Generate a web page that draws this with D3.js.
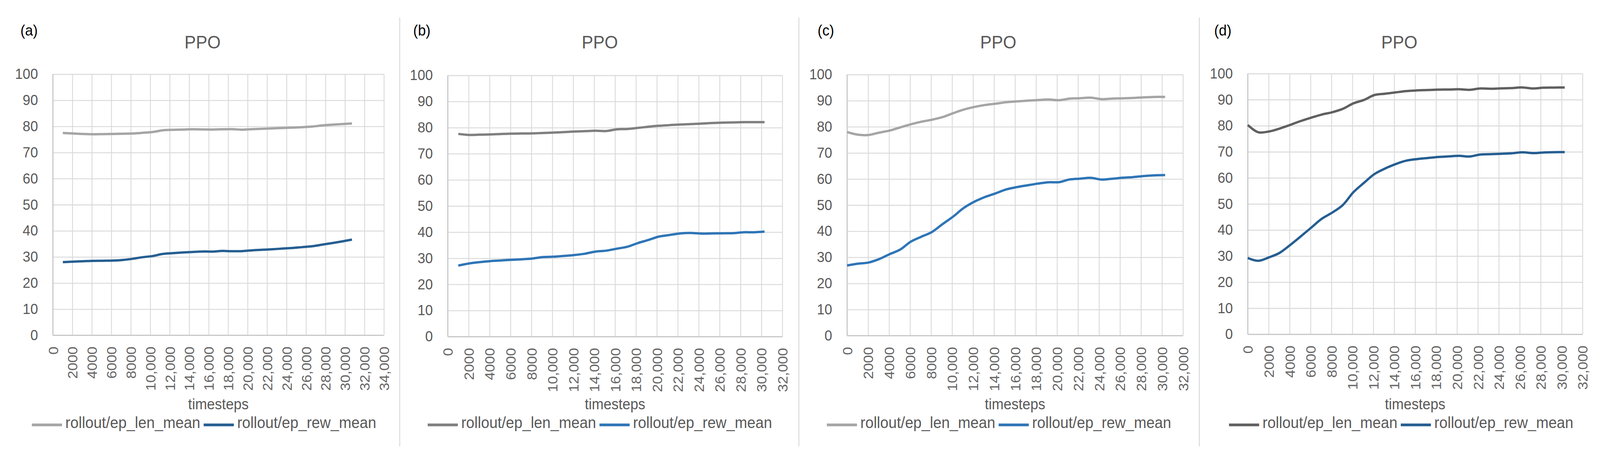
<!DOCTYPE html>
<html>
<head>
<meta charset="utf-8">
<script src="https://cdn.jsdelivr.net/npm/d3@7"></script>
<style>
  html, body { margin: 0; padding: 0; width: 100%; height: 100%; overflow: hidden; background: #fff; }
  svg { display: block; width: 100vw; height: 100vh; }
  text { font-family: "Liberation Sans", Arial, sans-serif; }
</style>
</head>
<body>
<svg id="chart"></svg>
<script>
// ---- data ----
const panelLabels = ['(a)', '(b)', '(c)', '(d)'];
const chartTitle = 'PPO';
const xTitle = 'timesteps';
const seriesNames = ['rollout/ep_len_mean', 'rollout/ep_rew_mean'];

const yTicks = [0, 10, 20, 30, 40, 50, 60, 70, 80, 90, 100];
const xTicks34 = [0, 2000, 4000, 6000, 8000, 10000, 12000, 14000, 16000, 18000,
  20000, 22000, 24000, 26000, 28000, 30000, 32000, 34000];
const xTicks32 = [0, 2000, 4000, 6000, 8000, 10000, 12000, 14000, 16000, 18000,
  20000, 22000, 24000, 26000, 28000, 30000, 32000];

const stepsA = [1024, 2048, 3072, 4096, 5120, 6144, 7168, 8192, 9216, 10240,
  11264, 12288, 13312, 14336, 15360, 16384, 17408, 18432, 19456, 20480,
  21504, 22528, 23552, 24576, 25600, 26624, 27648, 28672, 29696, 30720];
const lenA = [77.5, 77.3, 77.1, 77.0, 77.05, 77.1, 77.2, 77.3, 77.55, 77.85,
  78.5, 78.7, 78.8, 78.9, 78.85, 78.8, 78.9, 78.95, 78.75, 78.95,
  79.1, 79.25, 79.4, 79.55, 79.7, 79.95, 80.35, 80.65, 80.9, 81.1];
const rewA = [28.0, 28.2, 28.35, 28.5, 28.55, 28.6, 28.85, 29.3, 29.9, 30.35,
  31.15, 31.45, 31.7, 31.9, 32.1, 32.05, 32.3, 32.2, 32.25, 32.55,
  32.75, 32.95, 33.2, 33.45, 33.75, 34.1, 34.7, 35.3, 35.95, 36.65];

const stepsB = [1010, 2020, 3030, 4040, 5050, 6060, 7070, 8080, 9090, 10100,
  11110, 12120, 13130, 14140, 15150, 16160, 17170, 18180, 19190, 20200,
  21210, 22220, 23230, 24240, 25250, 26260, 27270, 28280, 29290, 30300];
const lenB = [77.6, 77.2, 77.3, 77.4, 77.55, 77.7, 77.75, 77.8, 77.95, 78.1,
  78.3, 78.5, 78.65, 78.8, 78.7, 79.35, 79.5, 79.9, 80.35, 80.7,
  80.95, 81.2, 81.35, 81.55, 81.75, 81.9, 82.0, 82.1, 82.1, 82.1];
const rewB = [27.2, 28.0, 28.5, 28.9, 29.15, 29.4, 29.6, 29.9, 30.45, 30.6,
  30.9, 31.25, 31.75, 32.55, 32.9, 33.65, 34.4, 35.8, 37.0, 38.3,
  38.9, 39.5, 39.7, 39.45, 39.5, 39.55, 39.6, 39.95, 39.95, 40.2];

const stepsCD = [0, 1010, 2020, 3030, 4040, 5050, 6060, 7070, 8080, 9090, 10100,
  11110, 12120, 13130, 14140, 15150, 16160, 17170, 18180, 19190, 20200,
  21210, 22220, 23230, 24240, 25250, 26260, 27270, 28280, 29290, 30300];
const lenC = [78.0, 77.0, 76.85, 77.75, 78.55, 79.75, 80.95, 81.95, 82.7, 83.7, 85.2,
  86.6, 87.6, 88.35, 88.85, 89.4, 89.75, 90.0, 90.25, 90.45, 90.2,
  90.8, 90.95, 91.15, 90.6, 90.8, 90.9, 91.05, 91.3, 91.45, 91.45];
const rewC = [26.9, 27.55, 28.0, 29.3, 31.2, 32.95, 36.0, 37.9, 39.7, 42.7, 45.6,
  48.9, 51.3, 53.1, 54.5, 56.0, 56.9, 57.6, 58.25, 58.75, 58.8,
  59.85, 60.15, 60.45, 59.8, 60.1, 60.5, 60.75, 61.15, 61.4, 61.5];
const lenD = [80.3, 77.5, 77.8, 78.9, 80.3, 81.8, 83.1, 84.3, 85.2, 86.5, 88.6,
  89.9, 91.8, 92.3, 92.8, 93.3, 93.55, 93.7, 93.85, 93.9, 94.0,
  93.8, 94.3, 94.2, 94.35, 94.45, 94.7, 94.3, 94.6, 94.65, 94.7];
const rewD = [29.3, 28.2, 29.5, 31.2, 34.2, 37.5, 40.9, 44.3, 46.7, 49.6, 54.5,
  58.1, 61.5, 63.6, 65.3, 66.6, 67.2, 67.6, 68.0, 68.25, 68.45,
  68.2, 68.95, 69.1, 69.25, 69.45, 69.8, 69.5, 69.75, 69.85, 69.9];

// ---- layout (pixels of the 4297x1183 drawing) ----
const W = 4297, H = 1183;
const panels = [
  { steps: stepsA, len: lenA, rew: rewA, xTicks: xTicks34, left: 142, right: 1031, top: 190, bottom: 858.5,
    labelX: 78, titleX: 544, legendX: 548, lenColor: '#a5a5a5', rewColor: '#255e91' },
  { steps: stepsB, len: lenB, rew: rewB, xTicks: xTicks32, left: 1202.5, right: 2101, top: 193, bottom: 862,
    labelX: 1133, titleX: 1611, legendX: 1611, lenColor: '#7f7f7f', rewColor: '#2e75b6' },
  { steps: stepsCD, len: lenC, rew: rewC, xTicks: xTicks32, left: 2275, right: 3177, top: 191, bottom: 859.5,
    labelX: 2218, titleX: 2681, legendX: 2683, lenColor: '#a5a5a5', rewColor: '#2e75b6' },
  { steps: stepsCD, len: lenD, rew: rewD, xTicks: xTicks32, left: 3351, right: 4250, top: 188.5, bottom: 856,
    labelX: 3284, titleX: 3758, legendX: 3763, lenColor: '#606060', rewColor: '#255e91' }
];
const separators = [1073.5, 2145.5, 3221];

// scale the drawing to whatever viewport the page gets
const svg = d3.select('#chart')
  .attr('viewBox', [0, 0, W, H])
  .attr('preserveAspectRatio', 'none');
svg.append('rect').attr('width', W).attr('height', H).attr('fill', '#fff');

svg.selectAll('line.sep')
  .data(separators)
  .join('line')
  .attr('class', 'sep')
  .attr('x1', d => d).attr('x2', d => d)
  .attr('y1', 45).attr('y2', 1143)
  .attr('stroke', '#d9d9d9').attr('stroke-width', 2.5);

const xFmt = d => d >= 10000 ? d3.format(',')(d) : String(d);

panels.forEach((p, i) => {
  const g = svg.append('g');
  const x = d3.scaleLinear()
    .domain([0, p.xTicks[p.xTicks.length - 1]])
    .range([p.left, p.right]);
  const y = d3.scaleLinear().domain([0, 100]).range([p.bottom, p.top]);

  // horizontal gridlines + y labels
  const gy = g.append('g')
    .attr('transform', `translate(${p.left},0)`)
    .call(d3.axisLeft(y).tickValues(yTicks).tickSize(-(p.right - p.left)).tickPadding(40));
  gy.select('.domain').remove();
  gy.selectAll('.tick line').attr('stroke', '#d9d9d9').attr('stroke-width', 2.3);
  gy.selectAll('.tick text')
    .attr('fill', '#595959').attr('font-size', 37)
    .attr('font-family', '"Liberation Sans", Arial, sans-serif');

  // vertical gridlines + rotated x labels
  const gx = g.append('g')
    .attr('transform', `translate(0,${p.bottom})`)
    .call(d3.axisBottom(x).tickValues(p.xTicks).tickSize(-(p.bottom - p.top)).tickFormat(xFmt));
  gx.select('.domain').remove();
  gx.selectAll('.tick line').attr('stroke', '#d9d9d9').attr('stroke-width', 2.3);
  gx.selectAll('.tick text')
    .attr('transform', 'rotate(-90)')
    .attr('text-anchor', 'end')
    .attr('x', -29).attr('y', 0).attr('dy', '0.36em')
    .attr('fill', '#666').attr('font-size', 37)
    .attr('font-family', '"Liberation Sans", Arial, sans-serif');

  // axis lines
  g.append('line')
    .attr('x1', p.left).attr('x2', p.right).attr('y1', p.bottom).attr('y2', p.bottom)
    .attr('stroke', '#c4c4c4').attr('stroke-width', 2.5);
  g.append('line')
    .attr('x1', p.left).attr('x2', p.left).attr('y1', p.top).attr('y2', p.bottom)
    .attr('stroke', '#c4c4c4').attr('stroke-width', 2.5);

  // series
  const line = d3.line()
    .x(d => x(d[0]))
    .y(d => y(d[1]))
    .curve(d3.curveCatmullRom.alpha(0.5));
  [[p.len, p.lenColor], [p.rew, p.rewColor]].forEach(([vals, color]) => {
    g.append('path')
      .datum(p.steps.map((t, k) => [t, vals[k]]))
      .attr('fill', 'none')
      .attr('stroke', color)
      .attr('stroke-width', 6)
      .attr('stroke-linejoin', 'round')
      .attr('d', line);
  });

  // texts
  g.append('text')
    .attr('x', p.labelX).attr('y', 91)
    .attr('text-anchor', 'middle')
    .attr('font-size', 38).attr('fill', '#000')
    .text(panelLabels[i]);
  g.append('text')
    .attr('x', p.titleX).attr('y', 124)
    .attr('text-anchor', 'middle')
    .attr('font-size', 46).attr('fill', '#595959')
    .text(chartTitle);
  g.append('text')
    .attr('x', (p.left + p.right) / 2).attr('y', 1048)
    .attr('text-anchor', 'middle')
    .attr('font-size', 38).attr('fill', '#595959')
    .text(xTitle);

  // legend
  const lg = g.append('g');
  const swatch = 81, gap = 9;
  let cx = 0;
  const colors = [p.lenColor, p.rewColor];
  seriesNames.forEach((name, k) => {
    lg.append('line')
      .attr('x1', cx).attr('x2', cx + swatch)
      .attr('y1', 1088).attr('y2', 1088)
      .attr('stroke', colors[k]).attr('stroke-width', 7);
    cx += swatch + gap;
    const t = lg.append('text')
      .attr('x', cx).attr('y', 1096)
      .attr('font-size', 40).attr('fill', '#595959')
      .text(name);
    cx += t.node().getComputedTextLength() + gap;
  });
  const total = cx - gap;
  lg.attr('transform', `translate(${p.legendX - total / 2},0)`);
});
</script>
</body>
</html>
